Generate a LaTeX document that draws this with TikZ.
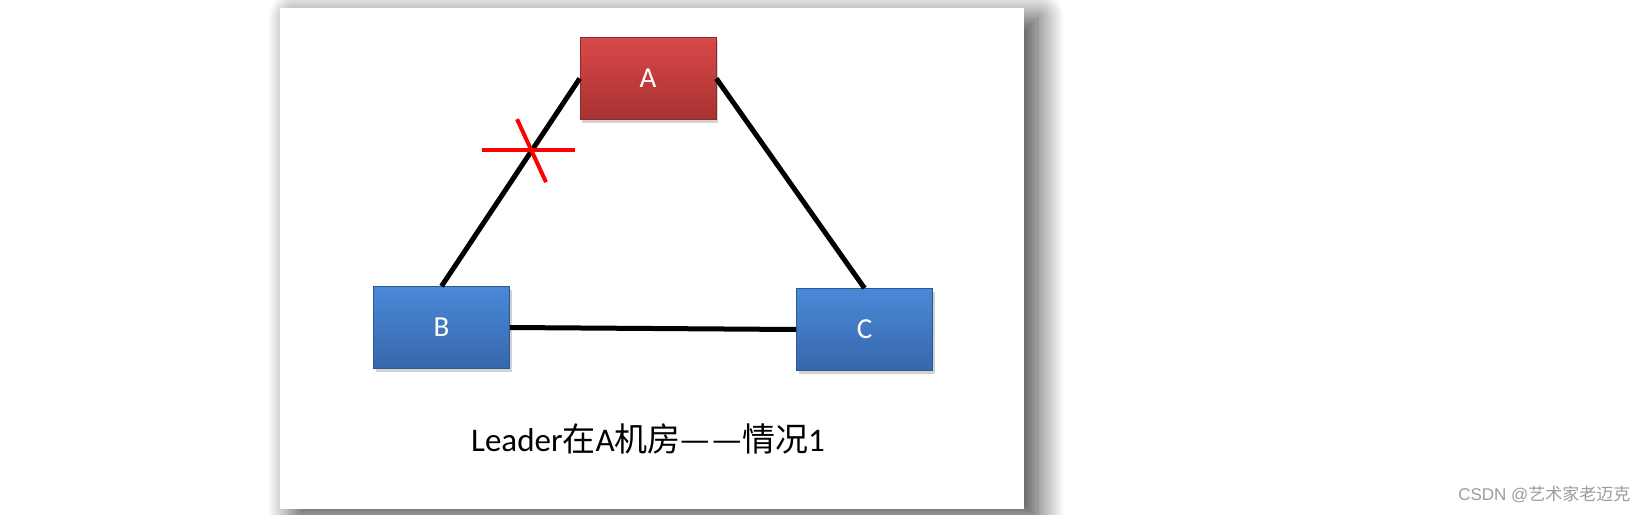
\documentclass[tikz,border=0pt]{standalone}
\usepackage{fontspec}
\setmainfont{Carlito}
\newfontfamily\cjk{Noto Sans CJK SC}
\newfontfamily\wmfont{Liberation Sans}
\usetikzlibrary{positioning, calc, shadows, shadows.blur}

\definecolor{redtop}{HTML}{D94949}
\definecolor{redbot}{HTML}{A83131}
\definecolor{bluetop}{HTML}{4A89D8}
\definecolor{bluebot}{HTML}{3767AC}
\definecolor{wmgray}{HTML}{9C9C9C}

\begin{document}
\begin{tikzpicture}[
    x=1pt, y=-1pt,
    card/.style={rectangle, fill=white, minimum width=744pt, minimum height=501pt, inner sep=0pt,
        blur shadow={shadow xshift=14pt, shadow yshift=-10pt, shadow blur radius=26pt,
            shadow blur steps=40, shadow opacity=75}},
    server/.style={rectangle, minimum width=136pt, minimum height=82pt, inner sep=0pt,
        text=white, font=\fontsize{29}{32}\selectfont,
        top color=#1top, bottom color=#1bot, draw=#1bot!85!black, line width=0.6pt,
        drop shadow={shadow xshift=2pt, shadow yshift=-3pt, opacity=0.35}},
    link/.style={line width=5pt, black},
    cross/.style={line width=4pt, red},
    caption/.style={font=\fontsize{33}{36}\selectfont, text=black}
]

% fixed page size
\useasboundingbox (0,0) rectangle (1648,514);

% panel
\node[card] (panel) at (652,258) {};

% machine rooms
\node[server=red] (A) at (648,78.5) {A};
\node[server=blue] (B) at (441.5,327.5) {B};
\node[server=blue] (C) at (864.5,329.5) {C};

% links
\draw[link] (A.west) -- (B.north);
\draw[link] (A.east) -- (C.north);
\draw[link] (B.east) -- (C.west);

% broken link between A and B
\coordinate (cut) at ($(A.west)!0.345!(B.north)$);
\draw[cross] ($(cut)+(-50,0)$) -- ($(cut)+(43,0)$);
\draw[cross] ($(cut)+(-15,-31)$) -- ($(cut)+(14,32)$);

% caption
\node[caption] (title) at (648,439) {Leader{\cjk 在}A{\cjk 机房—\kern2.5pt—情况}1};

% watermark
\node[anchor=east, text=wmgray, font=\wmfont\fontsize{17}{19}\selectfont] (wm) at (1634,494) {CSDN @{\cjk 艺术家老迈克}};

\end{tikzpicture}
\end{document}
